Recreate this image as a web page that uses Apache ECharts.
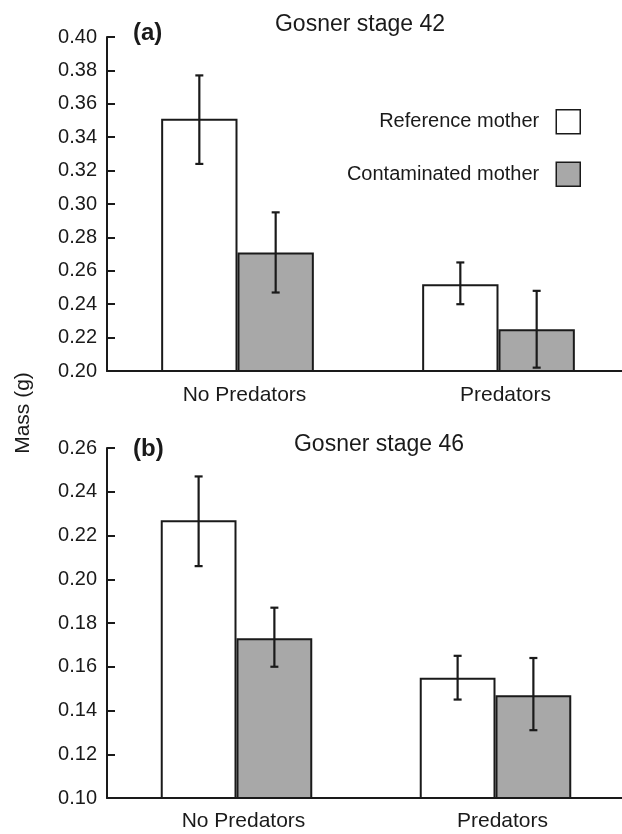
<!DOCTYPE html>
<html>
<head>
<meta charset="utf-8">
<script src="https://cdn.jsdelivr.net/npm/echarts@6/dist/echarts.min.js"></script>
<style>
  html, body { margin: 0; padding: 0; background: #fff; }
  #chart { width: 622px; height: 834px; }
</style>
</head>
<body>
<div id="chart"></div>
<script>
// data
var categories = ['No Predators', 'Predators']
var seriesNames = ['Reference mother', 'Contaminated mother']

// (a) Gosner stage 42
var refMeanA = [0.351, 0.252]
var refLowA = [0.324, 0.240]
var refHighA = [0.377, 0.265]
var contMeanA = [0.271, 0.225]
var contLowA = [0.247, 0.202]
var contHighA = [0.295, 0.248]

// (b) Gosner stage 46
var refMeanB = [0.227, 0.155]
var refLowB = [0.206, 0.145]
var refHighB = [0.247, 0.165]
var contMeanB = [0.173, 0.147]
var contLowB = [0.160, 0.131]
var contHighB = [0.187, 0.164]

var font = 'Liberation Sans, Arial, Helvetica, sans-serif'
var ink = '#1a1a1a'
var gray = '#a8a8a8'
var catGap = 0.415 // barCategoryGap

function errData(low, high) {
  return low.map(function (l, i) { return [i, l, high[i]] })
}

// side: -1 left bar, +1 right bar
function errorBar(side) {
  return function (params, api) {
    var band = api.size([1, 0])[0]
    var off = side * band * (1 - catGap) / 4
    var lo = api.coord([api.value(0), api.value(1)])
    var hi = api.coord([api.value(0), api.value(2)])
    var x = lo[0] + off
    var cap = 4
    var style = { stroke: ink, lineWidth: 2.2 }
    return {
      type: 'group',
      children: [
        { type: 'line', shape: { x1: x, y1: lo[1], x2: x, y2: hi[1] }, style: style },
        { type: 'line', shape: { x1: x - cap, y1: lo[1], x2: x + cap, y2: lo[1] }, style: style },
        { type: 'line', shape: { x1: x - cap, y1: hi[1], x2: x + cap, y2: hi[1] }, style: style }
      ]
    }
  }
}

function xAxisFor(idx, margin) {
  return {
    type: 'category',
    gridIndex: idx,
    data: categories,
    axisLine: { lineStyle: { color: ink, width: 2 } },
    axisTick: { show: false },
    axisLabel: { color: ink, fontSize: 21, fontFamily: font, margin: margin, padding: [0, 0, 0, 14] }
  }
}

function yAxisFor(idx, min, max) {
  return {
    type: 'value',
    gridIndex: idx,
    min: min,
    max: max,
    interval: 0.02,
    axisLine: { show: true, lineStyle: { color: ink, width: 2 } },
    axisTick: { show: true, inside: true, length: 8, lineStyle: { color: ink, width: 2 } },
    splitLine: { show: false },
    axisLabel: {
      color: ink, fontSize: 20, fontFamily: font, margin: 10,
      formatter: function (v) { return v.toFixed(2) }
    }
  }
}

function barSeries(name, data, idx, color) {
  return {
    name: name,
    type: 'bar',
    xAxisIndex: idx,
    yAxisIndex: idx,
    data: data,
    barGap: '0%',
    barCategoryGap: (catGap * 100) + '%',
    itemStyle: { color: color, borderColor: ink, borderWidth: 2 },
    emphasis: { disabled: true }
  }
}

function errSeries(low, high, idx, side) {
  return {
    type: 'custom',
    xAxisIndex: idx,
    yAxisIndex: idx,
    data: errData(low, high),
    encode: { x: 0, y: [1, 2] },
    renderItem: errorBar(side),
    z: 5
  }
}

var chart = echarts.init(document.getElementById('chart'))

chart.setOption({
  animation: false,
  backgroundColor: '#fff',
  textStyle: { fontFamily: font },
  grid: [
    { left: 107, width: 522, top: 37, height: 334, outerBoundsMode: 'none' },
    { left: 107, width: 518, top: 448, height: 350, outerBoundsMode: 'none' }
  ],
  title: [
    { text: 'Gosner stage 42', left: 355, top: 8, textAlign: 'center',
      textStyle: { fontSize: 23, fontWeight: 'normal', color: ink, fontFamily: font } },
    { text: '(a)', left: 128, top: 16,
      textStyle: { fontSize: 24, fontWeight: 'bold', color: ink, fontFamily: font } },
    { text: 'Gosner stage 46', left: 374, top: 428, textAlign: 'center',
      textStyle: { fontSize: 23, fontWeight: 'normal', color: ink, fontFamily: font } },
    { text: '(b)', left: 128, top: 432,
      textStyle: { fontSize: 24, fontWeight: 'bold', color: ink, fontFamily: font } }
  ],
  legend: {
    data: seriesNames,
    orient: 'vertical',
    align: 'right',
    right: 36,
    top: 104,
    icon: 'rect',
    itemWidth: 24,
    itemHeight: 24,
    itemGap: 27,
    selectedMode: false,
    itemStyle: { borderColor: ink, borderWidth: 1.5 },
    textStyle: { fontSize: 20, color: ink, fontFamily: font, padding: [0, 12, 0, 0] }
  },
  graphic: [
    {
      type: 'text',
      x: 23,
      y: 413,
      rotation: Math.PI / 2,
      style: { text: 'Mass (g)', fill: ink, font: '21px ' + font, align: 'center', verticalAlign: 'middle' }
    }
  ],
  xAxis: [xAxisFor(0, 14), xAxisFor(1, 13)],
  yAxis: [yAxisFor(0, 0.20, 0.40), yAxisFor(1, 0.10, 0.26)],
  series: [
    barSeries(seriesNames[0], refMeanA, 0, '#ffffff'),
    barSeries(seriesNames[1], contMeanA, 0, gray),
    errSeries(refLowA, refHighA, 0, -1),
    errSeries(contLowA, contHighA, 0, 1),
    barSeries(seriesNames[0], refMeanB, 1, '#ffffff'),
    barSeries(seriesNames[1], contMeanB, 1, gray),
    errSeries(refLowB, refHighB, 1, -1),
    errSeries(contLowB, contHighB, 1, 1)
  ]
})
</script>
</body>
</html>
